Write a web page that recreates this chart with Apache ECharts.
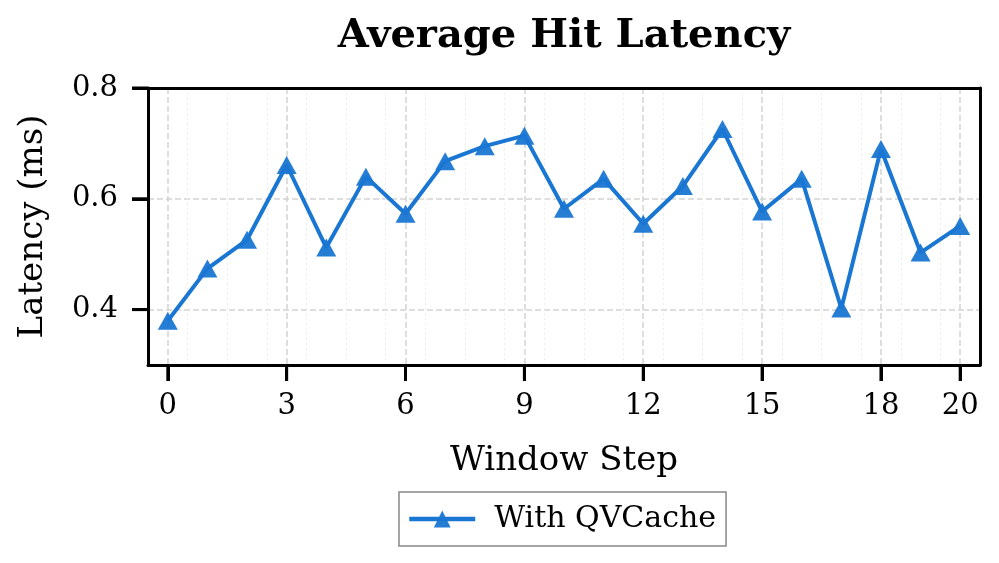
<!DOCTYPE html>
<html><head><meta charset="utf-8">
<script src="https://cdn.jsdelivr.net/npm/echarts@6/dist/echarts.min.js"></script>
<style>html,body{margin:0;padding:0;background:#fff}#c{width:999px;height:563px}</style>
</head><body><div id="c"></div>
<script>
var steps = [0,1,2,3,4,5,6,7,8,9,10,11,12,13,14,15,16,17,18,19,20];
var latency = [0.380,0.474,0.526,0.661,0.512,0.640,0.573,0.668,0.695,0.714,0.582,0.636,0.555,0.623,0.726,0.577,0.636,0.402,0.690,0.503,0.551];
var xTicks = [0,3,6,9,12,15,18,20];
var yTicks = [0.4,0.6,0.8];
var xRange = [-0.5, 20.5];
var yRange = [0.3, 0.8];
var F = 'DejaVu Serif';
var blue = '#1976D2';
var TICK_LEN = 16;
var chart = echarts.init(document.getElementById('c'));
function gridMajor(){ return {color:'#d4d4d4', width:1.5, type:[6,3]}; }
function frameLine(){ return {show:true, onZero:false, lineStyle:{color:'#000', width:3}}; }
chart.setOption({
  animation:false,
  title:{text:'Average Hit Latency', left:559, top:12, textAlign:'center',
    textStyle:{fontFamily:F, fontWeight:'bold', fontSize:40, color:'#000'}},
  grid:{left:148, right:19, top:88, bottom:198, show:false},
  legend:{bottom:17, left:399, data:['With QVCache'], itemWidth:66, itemHeight:21,
    borderColor:'#888', borderWidth:1.5, borderRadius:0, padding:[12,10,12,8], itemGap:10,
    lineStyle:{width:4.5},
    textStyle:{fontFamily:F, fontSize:30, color:'#000', padding:[0,0,0,14]}},
  xAxis:[{
    type:'value', min:xRange[0], max:xRange[1], interval:1, position:'bottom',
    axisLine:{show:false}, axisTick:{show:false}, axisLabel:{show:false},
    splitLine:{show:true, lineStyle:{color:'#ececec', width:1, type:[2,3]}}
  },{
    type:'value', min:xRange[0], max:xRange[1], position:'bottom',
    name:'Window Step', nameLocation:'middle', nameGap:79,
    nameTextStyle:{fontFamily:F, fontSize:34, color:'#000'},
    axisLine:frameLine(),
    axisTick:{show:true, customValues:xTicks, length:TICK_LEN, lineStyle:{color:'#000', width:3}},
    axisLabel:{customValues:xTicks, fontFamily:F, fontSize:29, color:'#000', margin:27},
    splitLine:{show:true, lineStyle:gridMajor()}
  },{
    type:'value', min:xRange[0], max:xRange[1], position:'top',
    axisLine:frameLine(), axisTick:{show:false}, axisLabel:{show:false}, splitLine:{show:false}
  }],
  yAxis:[{
    type:'value', min:yRange[0], max:yRange[1],
    name:'Latency (ms)', nameLocation:'middle', nameGap:98, nameRotate:90,
    nameTextStyle:{fontFamily:F, fontSize:34, color:'#000'},
    axisLine:frameLine(),
    axisTick:{show:true, customValues:yTicks, length:TICK_LEN, lineStyle:{color:'#000', width:3}},
    axisLabel:{customValues:yTicks, fontFamily:F, fontSize:29, color:'#000', margin:30,
      formatter:function(v){return v.toFixed(1);}},
    splitLine:{show:true, lineStyle:gridMajor()}
  },{
    type:'value', min:yRange[0], max:yRange[1], position:'right',
    axisLine:frameLine(), axisTick:{show:false}, axisLabel:{show:false}, splitLine:{show:false}
  }],
  series:[{
    name:'With QVCache', type:'line', xAxisIndex:1, yAxisIndex:0,
    data:steps.map(function(s,i){return [s, latency[i]];}),
    symbol:'triangle', symbolSize:[20,18],
    lineStyle:{color:blue, width:4},
    itemStyle:{color:blue, opacity:0.95},
    z:10
  }]
});
// reinforce tick marks, positioned through the axis scales
var bottomPx = chart.convertToPixel({yAxisIndex:0}, yRange[0]);
var leftPx = chart.convertToPixel({xAxisIndex:1}, xRange[0]);
var g = [];
xTicks.forEach(function(v){
  var px = chart.convertToPixel({xAxisIndex:1}, v);
  g.push({type:'line', z:100, shape:{x1:px, y1:bottomPx, x2:px, y2:bottomPx+TICK_LEN}, style:{stroke:'#000', lineWidth:3}});
});
yTicks.forEach(function(v){
  var py = chart.convertToPixel({yAxisIndex:0}, v);
  g.push({type:'line', z:100, shape:{x1:leftPx-TICK_LEN, y1:py, x2:leftPx, y2:py}, style:{stroke:'#000', lineWidth:3}});
});
chart.setOption({graphic:g});
</script></body></html>
